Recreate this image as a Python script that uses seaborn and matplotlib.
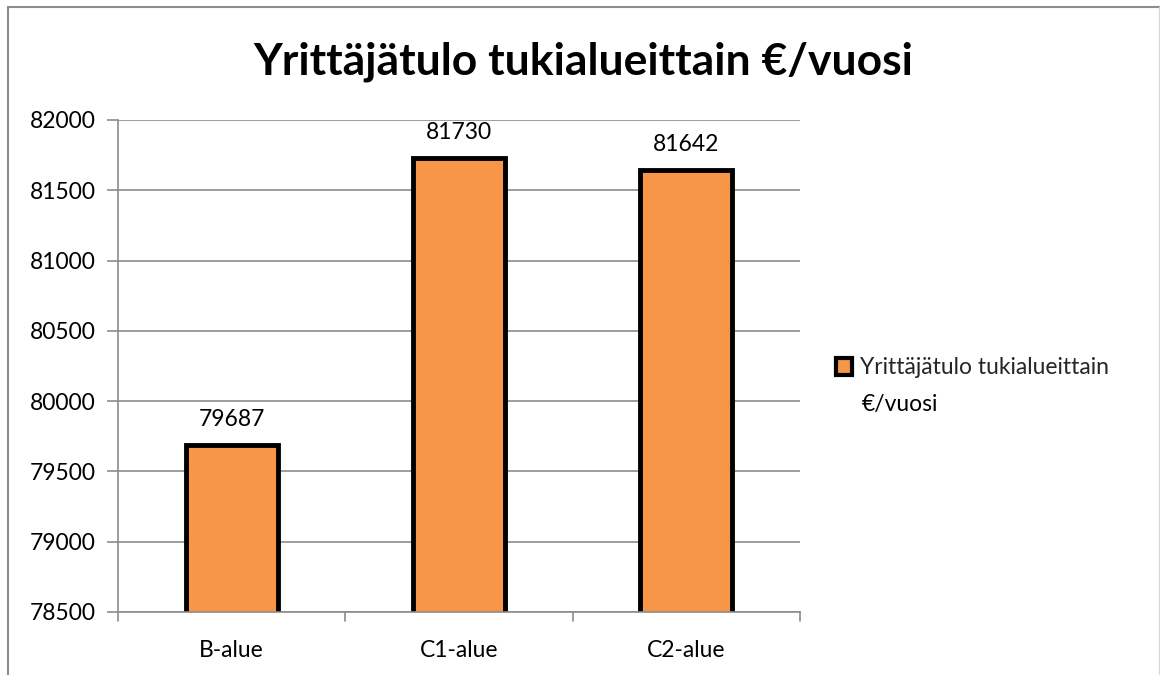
import matplotlib
matplotlib.use("Agg")
import matplotlib.pyplot as plt
import seaborn as sns
import pandas as pd
from matplotlib.lines import Line2D
from matplotlib.patches import Rectangle

categories = ["B-alue", "C1-alue", "C2-alue"]
values = [79687, 81730, 81642]
series_name = "Yrittäjätulo tukialueittain €/vuosi"
title = "Yrittäjätulo tukialueittain €/vuosi"
y_ticks = [78500, 79000, 79500, 80000, 80500, 81000, 81500, 82000]

sns.set_theme(style="white")
plt.rcParams['font.family'] = ['Lato', 'DejaVu Sans']

df = pd.DataFrame({"alue": categories, "arvo": values})

fig = plt.figure(figsize=(11.6, 6.75), dpi=100)
ax = fig.add_axes([118/1160, 1-612/675, 682/1160, 492/675])

sns.barplot(data=df, x="alue", y="arvo", ax=ax, color="#F79646", width=0.405,
            edgecolor="black", linewidth=3.5, saturation=1)

ax.set_ylim(78500, 82000)
ax.set_xlim(-0.5, 2.5)
ax.set_yticks(y_ticks)
ax.set_yticklabels([str(t) for t in y_ticks], fontsize=16.5, color="black")
ax.set_xticks([0, 1, 2])
ax.set_xticklabels(categories, fontsize=16.5, color="black")
ax.set_xlabel("")
ax.set_ylabel("")
ax.yaxis.grid(True, color="#8C8C8C", linewidth=1.2)
ax.set_axisbelow(True)
for s in ["top", "right"]:
    ax.spines[s].set_visible(False)
for s in ["left", "bottom"]:
    ax.spines[s].set_color("#8C8C8C")
    ax.spines[s].set_linewidth(1.2)
ax.tick_params(axis="y", length=8, width=1.2, color="#8C8C8C", pad=8, left=True)
ax.tick_params(axis="x", length=0, pad=20)
# category boundary tick marks
for xb in [-0.5, 0.5, 1.5, 2.5]:
    ax.plot([xb, xb], [0, -0.018], transform=ax.get_xaxis_transform(),
            color="#8C8C8C", lw=1.2, clip_on=False)

for i, v in enumerate(values):
    ax.annotate(str(v), (i, v), xytext=(0, 11), textcoords="offset points",
                ha="center", va="bottom", fontsize=16.5, color="black")

fig.text(583/1160, 1-62/675, title, ha="center", va="center", fontsize=32,
         fontweight="bold", color="black")

handle = Rectangle((0, 0), 1, 1, facecolor="#F79646", edgecolor="black", linewidth=3)
leg_lines = ["Yrittäjätulo tukialueittain", "€/vuosi"]
leg = fig.legend([handle], [leg_lines[0]],
                 loc="center left", bbox_to_anchor=(836/1160, 1-368/675),
                 frameon=False, fontsize=16.5, handlelength=0.7, handleheight=0.7,
                 handletextpad=0.35, borderpad=0, borderaxespad=0)
fig.text(862/1160, 1-404/675, leg_lines[1], ha="left", va="center",
         fontsize=16.5, color="black")

# outer chart border
fig.add_artist(Line2D([8/1160, 8/1160], [0, 1-7/675], transform=fig.transFigure,
                      color="#8C8C8C", lw=1.5))
fig.add_artist(Line2D([8/1160, 1], [1-7/675, 1-7/675], transform=fig.transFigure,
                      color="#8C8C8C", lw=1.5))
fig.add_artist(Line2D([1159/1160, 1159/1160], [0, 1-7/675], transform=fig.transFigure,
                      color="#D9D9D9", lw=1))

fig.savefig("out.png", dpi=100)
